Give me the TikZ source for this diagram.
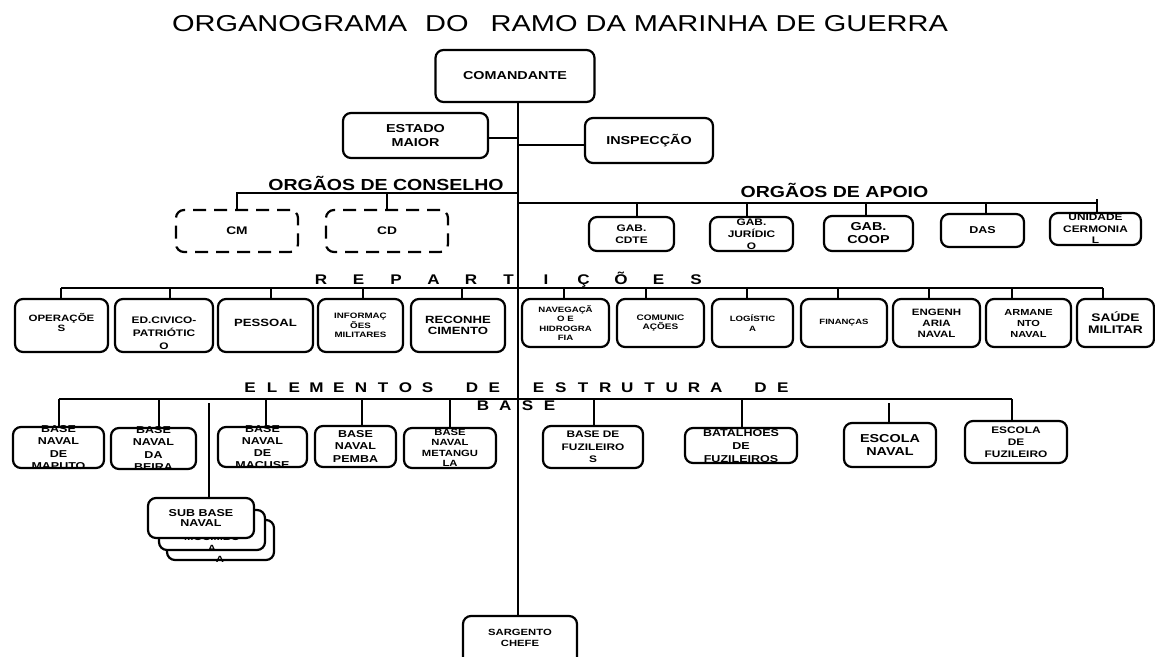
\documentclass[tikz,border=0pt]{standalone}
\usepackage{fontspec}
\setmainfont{Liberation Sans}
\newfontfamily\bxf{Liberation Sans}[FakeStretch=1.25]
\newfontfamily\hdf{Liberation Sans}[FakeStretch=1.22]
\newfontfamily\ttlf{Liberation Sans}[FakeStretch=1.26]
\newlength\ltw
\newcommand\lt[1]{\makebox[\ltw][c]{#1}}
\tikzset{
  bx/.style={draw, line width=2.2pt, rounded corners=8pt, fill=white, inner sep=0pt},
  dbx/.style={draw, line width=2.2pt, rounded corners=8pt, dash pattern=on 13pt off 8pt, inner sep=0pt},
  tx/.style={align=center, inner sep=0pt},
  ln/.style={line width=2.3pt},
  hd/.style={inner sep=0pt, anchor=base, font=\hdf\bfseries\fontsize{16}{18}\selectfont},
  sp/.style={inner sep=0pt, anchor=base, font=\hdf\bfseries\fontsize{14}{16}\selectfont},
}
\newcommand\ob[9]{%
  \node[bx, minimum width=#4pt, minimum height=#5pt] (#1) at (#2,#3) {};
  \node[tx, font=\bxf\bfseries\fontsize{#6}{#7}\selectfont] (#1t) at (#2,{#3+#8}) {#9};}
\newcommand\dr[3]{\coordinate (#1d) at (#2,0); \draw[ln] (#3 -| #1d) -- (#1.north -| #1d);}
\begin{document}
\begin{tikzpicture}[x=1pt,y=-1pt]
\useasboundingbox (0,0) rectangle (1155,656);
\fill[white] (0,0) rectangle (1155,656);
\clip (0,0) rectangle (1155,656);

% title
\node[inner sep=0pt, font=\ttlf\fontsize{23}{26}\selectfont] (title) at (560,24)
  {ORGANOGRAMA\hspace{18pt}DO\hspace{22pt}RAMO DA MARINHA DE GUERRA};

% top
\ob{com}{515}{76}{159}{52}{11.5}{13.5}{0}{COMANDANTE}
\ob{em}{415.5}{135.5}{145}{45}{11.5}{13.3}{0}{ESTADO\\MAIOR}
\ob{insp}{649}{140.5}{128}{45}{11.5}{13}{0}{INSPECÇÃO}
\ob{sg}{520}{642}{114}{52}{9}{10.5}{-4}{SARGENTO\\CHEFE}

\coordinate (tr) at (518,0);
\draw[ln] (com.south -| tr) -- (sg.north -| tr);
\coordinate (emc) at (0,138);
\draw[ln] (em.east |- emc) -- (tr |- emc);
\coordinate (ic) at (0,145);
\draw[ln] (tr |- ic) -- (insp.west |- ic);

% conselho
\node[hd] (cons) at (386,190) {ORGÃOS DE CONSELHO};
\node[dbx, minimum width=122pt, minimum height=42pt, font=\bxf\bfseries\fontsize{11}{13}\selectfont] (cm) at (237,231) {CM};
\node[dbx, minimum width=122pt, minimum height=42pt, font=\bxf\bfseries\fontsize{11}{13}\selectfont] (cd) at (387,231) {CD};
\coordinate (cl) at (0,193);
\draw[ln] (tr |- cl) -- (cm.north |- cl) -- (cm.north);
\draw[ln] (cd.north |- cl) -- (cd.north);

% apoio
\node[hd] (apoio) at (834.5,197) {ORGÃOS DE APOIO};
\ob{cdte}{631.5}{234}{85}{34}{9.5}{12}{0}{GAB.\\CDTE}
\ob{jur}{751.5}{234}{83}{34}{9.5}{12}{0}{GAB.\\JURÍDIC\\O}
\ob{coop}{868.5}{233.5}{89}{35}{11.5}{13}{0}{GAB.\\COOP}
\ob{das}{982.5}{230.5}{83}{33}{10}{12}{0}{DAS}
\ob{uni}{1095.5}{229}{91}{32}{9.5}{11.5}{0}{UNIDADE\\CERMONIA\\L}
\coordinate (al) at (0,203);
\draw[ln] (tr |- al) -- (1097,203);
\dr{cdte}{637}{al}
\dr{jur}{747}{al}
\dr{coop}{866}{al}
\dr{das}{986}{al}
\coordinate (unid) at (1097,0);
\draw[ln] (1097,199) -- (uni.north -| unid);

% reparticoes
\node[sp] (rep) at (508.5,284) {\setlength\ltw{37.5pt}\lt{R}\lt{E}\lt{P}\lt{A}\lt{R}\lt{T}\lt{I}\lt{Ç}\lt{Õ}\lt{E}\lt{S}};
\ob{op}{61.5}{325.5}{93}{53}{9.2}{10}{-3}{OPERAÇÕE\\S}
\ob{edc}{164}{325.5}{98}{53}{9.5}{13}{8}{ED.CIVICO-\\PATRIÓTIC\\O}
\ob{pes}{265.5}{325.5}{95}{53}{10.5}{12}{-2.5}{PESSOAL}
\ob{inf}{360.5}{325.5}{85}{53}{7.8}{9.5}{0}{INFORMAÇ\\ÕES\\MILITARES}
\ob{rec}{458}{325.5}{94}{53}{10.5}{11.5}{0}{RECONHE\\CIMENTO}
\ob{nav}{565.5}{323}{87}{48}{7.7}{9.3}{0}{NAVEGAÇÃ\\O E\\HIDROGRA\\FIA}
\ob{comu}{660.5}{323}{87}{48}{8}{9.5}{0}{COMUNIC\\AÇÕES}
\ob{log}{752.5}{323}{81}{48}{7.7}{9.5}{0}{LOGÍSTIC\\A}
\ob{fin}{844}{323}{86}{48}{7.6}{9}{0}{FINANÇAS}
\ob{eng}{936.5}{323}{87}{48}{9.2}{11}{0}{ENGENH\\ARIA\\NAVAL}
\ob{arm}{1028.5}{323}{85}{48}{8.8}{11}{0}{ARMANE\\NTO\\NAVAL}
\ob{sau}{1115.5}{323}{77}{48}{11}{12}{0}{SAÚDE\\MILITAR}
\coordinate (rl) at (0,288);
\draw[ln] (61,288) -- (1103,288);
\dr{op}{61}{rl}
\dr{edc}{170}{rl}
\dr{pes}{271}{rl}
\dr{inf}{363}{rl}
\dr{rec}{462}{rl}
\dr{nav}{564}{rl}
\dr{comu}{646}{rl}
\dr{log}{747}{rl}
\dr{fin}{838}{rl}
\dr{eng}{929}{rl}
\dr{arm}{1012}{rl}
\dr{sau}{1103}{rl}

% elementos
\node[sp] (el1) at (516.4,392) {\setlength\ltw{22.2pt}\lt{E}\lt{L}\lt{E}\lt{M}\lt{E}\lt{N}\lt{T}\lt{O}\lt{S}\lt{}\lt{D}\lt{E}\lt{}\lt{E}\lt{S}\lt{T}\lt{R}\lt{U}\lt{T}\lt{U}\lt{R}\lt{A}\lt{}\lt{D}\lt{E}};
\node[sp] (el2) at (516.4,410) {\setlength\ltw{22.2pt}\lt{B}\lt{A}\lt{S}\lt{E}};
\ob{mpt}{58.5}{447.5}{91}{41}{10}{12.3}{0}{BASE\\NAVAL\\DE\\MAPUTO}
\ob{bei}{153.5}{448.5}{85}{41}{10}{12.3}{0}{BASE\\NAVAL\\DA\\BEIRA}
\ob{mac}{262.5}{447}{89}{40}{10}{12.3}{0}{BASE\\NAVAL\\DE\\MACUSE}
\ob{pem}{355.5}{446.5}{81}{41}{10}{12.5}{0}{BASE\\NAVAL\\PEMBA}
\ob{met}{450}{448}{92}{40}{9}{10.5}{0}{BASE\\NAVAL\\METANGU\\LA}
\ob{bfz}{593}{447}{100}{42}{9.5}{12.5}{0}{BASE DE\\FUZILEIRO\\S}
\ob{bat}{741}{445.5}{112}{35}{10}{13}{1}{BATALHOES\\DE\\FUZILEIROS}
\ob{esn}{890}{445}{92}{44}{11.5}{13}{0}{ESCOLA\\NAVAL}
\ob{esf}{1016}{442}{102}{42}{9.5}{12}{0}{ESCOLA\\DE\\FUZILEIRO}
\coordinate (elin) at (0,399);
\draw[ln] (59,399) -- (1012,399);
\dr{mpt}{59}{elin}
\dr{bei}{159}{elin}
\dr{mac}{266}{elin}
\dr{pem}{362}{elin}
\dr{met}{450}{elin}
\dr{bfz}{594}{elin}
\dr{bat}{742}{elin}
\dr{esf}{1012}{elin}
\coordinate (esnd) at (889,403);
\draw[ln] (esnd) -- (esn.north -| esnd);

% sub base stack
\node[bx, minimum width=107pt, minimum height=40pt] (sb3) at (220.5,540) {};
\node[tx, font=\bxf\bfseries\fontsize{9}{11}\selectfont] (sb3t) at (220,559) {A};
\node[bx, minimum width=106pt, minimum height=40pt] (sb2) at (212,530) {};
\node[tx, font=\bxf\bfseries\fontsize{9}{11}\selectfont] (sb2t) at (212,543) {MOCIMBO\\A};
\ob{sb1}{201}{518}{106}{40}{10}{10.7}{0}{SUB BASE\\NAVAL}
\coordinate (sbd) at (209,403);
\draw[ln] (sbd) -- (sb1.north -| sbd);
\end{tikzpicture}
\end{document}
